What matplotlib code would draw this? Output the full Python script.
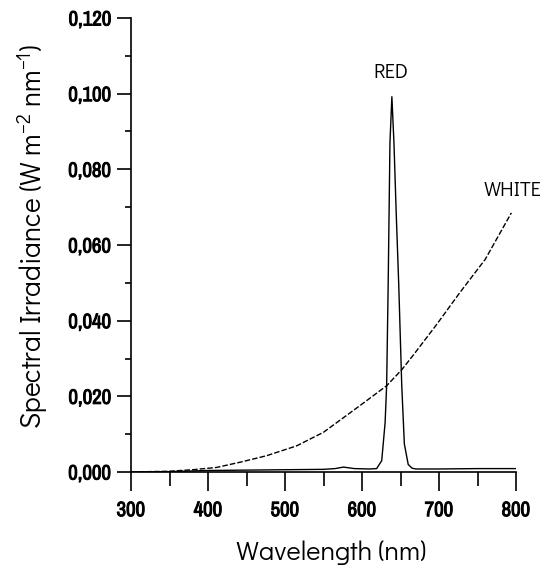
import matplotlib
matplotlib.use("Agg")
import matplotlib.pyplot as plt
import matplotlib.patheffects as pe
from matplotlib.ticker import MultipleLocator, FuncFormatter

# White lamp spectrum (dashed)
white_nm = [300, 350, 380, 411, 442, 476, 515, 550, 597, 632, 651.5, 667, 697, 727, 760, 794]
white_val = [0.0000, 0.0002, 0.0006, 0.0012, 0.0026, 0.0043, 0.0069, 0.0105, 0.0175,
             0.0228, 0.0270, 0.0310, 0.0390, 0.0474, 0.0562, 0.0685]

# Red LED spectrum (solid)
red_nm = [300, 350, 400, 450, 500, 550, 565, 576, 590, 610, 619, 625.6, 630, 632, 634,
          636.3, 638.8, 641.5, 644.5, 647.7, 651.6, 655, 660, 665, 670, 700, 750, 800]
red_val = [0.0000, 0.0001, 0.0004, 0.0005, 0.0006, 0.0007, 0.0009, 0.0013, 0.0009, 0.0008,
           0.0009, 0.0030, 0.0130, 0.0228, 0.0496, 0.0870, 0.0992, 0.0870, 0.0680,
           0.0496, 0.0230, 0.0074, 0.0020, 0.0010, 0.0008, 0.0008, 0.0009, 0.0009]

x_ticks = [300, 400, 500, 600, 700, 800]
y_ticks = [0.000, 0.020, 0.040, 0.060, 0.080, 0.100, 0.120]

plt.rcParams["mathtext.fontset"] = "custom"
plt.rcParams["mathtext.rm"] = "Didact Gothic"
plt.rcParams["mathtext.it"] = "Didact Gothic"

fig = plt.figure(figsize=(5.46, 5.69), dpi=100)
ax = fig.add_axes([131/546, 1 - 472/569, (516-131)/546, (472-18)/569])

ax.plot(red_nm, red_val, color="black", lw=1.0)
ax.plot(white_nm, white_val, color="black", lw=1.0, linestyle=(0, (4, 1.5)))

ax.set_xlim(300, 800)
ax.set_ylim(0, 0.120)
ax.set_xticks(x_ticks)
ax.set_yticks(y_ticks)
ax.xaxis.set_minor_locator(MultipleLocator(50))
ax.yaxis.set_minor_locator(MultipleLocator(0.010))

for s in ["top", "right"]:
    ax.spines[s].set_visible(False)
for s in ["left", "bottom"]:
    ax.spines[s].set_linewidth(1.2)

ax.yaxis.set_major_formatter(FuncFormatter(lambda v, p: f"{v:.3f}".replace(".", ",")))
ax.tick_params(axis="y", which="major", direction="out", length=10, width=1.2, pad=4)
ax.tick_params(axis="y", which="minor", direction="out", length=4, width=1.2)
ax.tick_params(axis="x", which="major", direction="out", length=14, width=1.2, pad=7)
ax.tick_params(axis="x", which="minor", direction="out", length=10, width=1.2)
for lab in ax.get_xticklabels() + ax.get_yticklabels():
    lab.set_fontfamily(["Archivo Narrow", "DejaVu Sans"])
    lab.set_fontweight("bold")
    lab.set_fontsize(15)
    lab.set_path_effects([pe.withStroke(linewidth=0.7, foreground="black")])

labfont = ["Didact Gothic", "DejaVu Sans"]
fig.text(331/546, 1 - 553/569, "Wavelength (nm)", ha="center", va="center",
         fontsize=19.5, family=labfont)
fig.text(33/546, 1 - 236/569, r"Spectral Irradiance (W m$^{-2}$ nm$^{-1}$)",
         ha="center", va="center", rotation=90, fontsize=20.2, family=labfont)

ax.text(637, 0.1055, "RED", ha="center", va="center", fontsize=14.5, family=labfont)
ax.text(795, 0.0745, "WHITE", ha="center", va="center", fontsize=14.5, family=labfont)

fig.savefig("out.png", dpi=100)
